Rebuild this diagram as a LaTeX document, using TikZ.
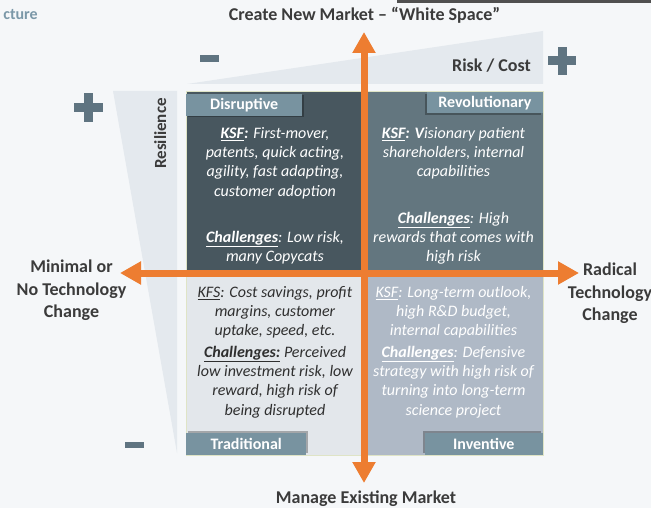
\documentclass[tikz,border=0pt]{standalone}
\usepackage{fontspec}
\setmainfont{Carlito}
\usetikzlibrary{arrows.meta,shadows}
\definecolor{bg}{HTML}{F5F7F9}
\definecolor{axisorange}{HTML}{ED7D31}
\definecolor{qTL}{HTML}{48575F}
\definecolor{qTR}{HTML}{63767F}
\definecolor{qBL}{HTML}{E3E7EB}
\definecolor{qBR}{HTML}{AFB9C6}
\definecolor{tabcol}{HTML}{7893A0}
\definecolor{wedgecol}{HTML}{E4E9EE}
\definecolor{signcol}{HTML}{5F7481}
\definecolor{labelgray}{HTML}{3B3B3B}
\definecolor{bartop}{HTML}{505050}
\definecolor{ctureblue}{HTML}{7B98A8}
\definecolor{gridline}{HTML}{DFE4C6}
\definecolor{dktext}{HTML}{2F2F2F}
\newcommand\qstrut{\rule{0pt}{12pt}}
\newcommand\bstrut{\rule{0pt}{14pt}}
\begin{document}
\begin{tikzpicture}[x=1pt,y=-1pt,
  quadtext/.style={align=center, anchor=north, inner sep=0pt, font=\fontsize{16}{19.3}\selectfont\itshape},
  biglabel/.style={align=center, anchor=north, inner sep=0pt, text=labelgray, font=\fontsize{18}{22.3}\selectfont\bfseries},
  axislabel/.style={inner sep=0pt, text=labelgray, font=\fontsize{18}{22}\selectfont\bfseries},
  tabbox/.style={fill=tabcol, text=white, inner sep=0pt, font=\fontsize{16}{16}\selectfont\bfseries},
  tabshadow/.style 2 args={drop shadow={shadow xshift=#1, shadow yshift=#2, fill=black, opacity=0.28}},
  axis/.style={draw=axisorange, line width=7pt, {Triangle[width=22pt,length=21pt]}-{Triangle[width=22pt,length=21pt]}},
  sign/.style={fill=signcol},
  wedge/.style={fill=wedgecol}
]
\useasboundingbox[fill=bg] (0,0) rectangle (651,508);
% top bar and cut-off heading
\fill[bartop] (397,0) rectangle (651,3.2);
\node[inner sep=0pt, anchor=base east, text=ctureblue, font=\fontsize{16}{16}\selectfont\bfseries] (cture) at (38,20) {cture};
% wedges
\fill[wedge] (187,84) -- (543,31) -- (543,84) -- cycle;
\fill[wedge] (113,91) -- (177,91) -- (177,453) -- cycle;
% plus / minus signs
\fill[sign] (200,55) rectangle (219,62);
\fill[sign] (548,56.5) rectangle (576,65.5);
\fill[sign] (557.5,47) rectangle (566.5,75);
\fill[sign] (73.5,103.5) rectangle (102.5,112.5);
\fill[sign] (83.5,93.5) rectangle (92.5,122.5);
\fill[sign] (125,442) rectangle (144,448);
% quadrants
\fill[qTL] (186,92) rectangle (364,273);
\fill[qTR] (364,92) rectangle (543,273);
\fill[qBL] (186,273) rectangle (364,455);
\fill[qBR] (364,273) rectangle (543,455);
\draw[gridline, line width=1pt] (186,92) rectangle (543,455);
% tabs
\node[tabbox, tabshadow={1.5pt}{-1.5pt}, minimum width=116pt, minimum height=22pt, anchor=north west] (tdis) at (186,93.5) {Disruptive};
\node[tabbox, tabshadow={-1.5pt}{-1.5pt}, minimum width=116pt, minimum height=21pt, anchor=north east] (trev) at (543,92) {Revolutionary};
\node[tabbox, tabshadow={1.5pt}{1.5pt}, minimum width=120pt, minimum height=22pt, anchor=south west] (ttra) at (186,455) {Traditional};
\node[tabbox, tabshadow={-1.5pt}{1.5pt}, minimum width=118pt, minimum height=22pt, anchor=south east] (tinv) at (543,455) {Inventive};
% quadrant texts
\node[quadtext, text=white] (ksfTL) at (275,126) {\qstrut\underline{\textbf{KSF}}\textbf{:} First-mover,\\ patents, quick acting,\\ agility, fast adapting,\\ customer adoption};
\node[quadtext, text=white] (chTL) at (275,230) {\qstrut\underline{\textbf{Challenges}}: Low risk,\\ many Copycats};
\node[quadtext, text=white] (ksfTR) at (453.5,126) {\qstrut\underline{\textbf{KSF}}\textbf{: V}isionary patient\\ shareholders, internal\\ capabilities};
\node[quadtext, text=white] (chTR) at (453.5,211) {\qstrut\underline{\textbf{Challenges}}: High\\ rewards that comes with\\ high risk};
\node[quadtext, text=dktext] (ksfBL) at (275,285) {\qstrut\underline{KFS}: Cost savings, profit\\ margins, customer\\ uptake, speed, etc.};
\node[quadtext, text=dktext] (chBL) at (275,345) {\qstrut\underline{\textbf{Challenges:}} Perceived\\ low investment risk, low\\ reward, high risk of\\ being disrupted};
\node[quadtext, text=white] (ksfBR) at (453.5,285) {\qstrut\underline{KSF}: Long-term outlook,\\ high R\&D budget,\\ internal capabilities};
\node[quadtext, text=white] (chBR) at (453.5,345) {\qstrut\underline{\textbf{Challenges}}: Defensive\\ strategy with high risk of\\ turning into long-term\\ science project};
% axis labels
\node[axislabel, anchor=base] (top) at (364.5,21) {Create New Market – “White Space”};
\node[axislabel, anchor=base] (bottom) at (366,503.5) {Manage Existing Market};
\node[axislabel, anchor=base east] (risk) at (531,72) {Risk / Cost};
\node[axislabel, anchor=base, rotate=90, font=\fontsize{17}{17}\selectfont\bfseries] (resil) at (166,133.5) {Resilience};
\node[biglabel] (left) at (71.5,258.5) {\bstrut Minimal or\\ No Technology\\ Change};
\node[biglabel] (right) at (610,261.5) {\bstrut Radical\\ Technology\\ Change};
% axes
\coordinate (N) at (364,32);
\coordinate (S) at (364,483);
\coordinate (W) at (120,273);
\coordinate (E) at (579,273);
\draw[axis] (S) -- (N);
\draw[axis] (W) -- (E);
\end{tikzpicture}
\end{document}
